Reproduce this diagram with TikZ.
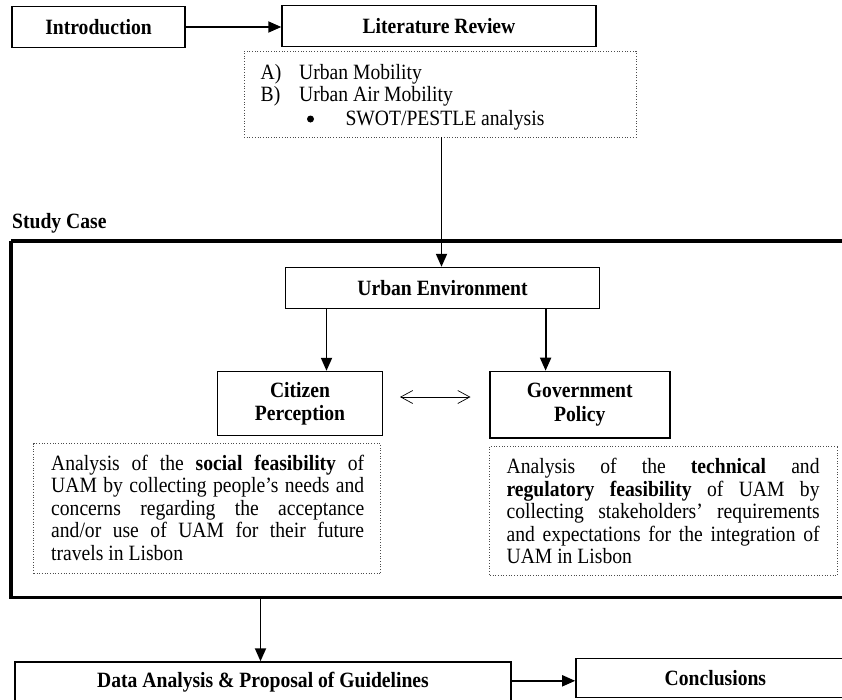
\documentclass[tikz,border=0pt]{standalone}
\usepackage{fontspec}
\setmainfont{Liberation Serif}[FakeStretch=0.9]
\usetikzlibrary{arrows.meta}
\newcommand{\jl}[1]{\makebox[313pt][s]{#1}}
\begin{document}
\begin{tikzpicture}[x=1pt,y=-1pt,
  solidbox/.style={draw=black,line width=1.4pt,fill=white,inner sep=0pt,font=\fontsize{21.8}{23.4}\selectfont\bfseries,align=center},
  dotbox/.style={draw=black!70,line width=0.7pt,dotted,inner sep=0pt},
  body/.style={font=\fontsize{21.8}{22.5}\selectfont,inner sep=0pt},
  arr/.style={line width=1.8pt,-{Triangle[length=13pt,width=11pt]}},
  thinarr/.style={line width=0.6pt,{Straight Barb[length=12pt,width=13pt,line width=0.7pt]}-{Straight Barb[length=12pt,width=13pt,line width=0.7pt]}}
]
\useasboundingbox (0,0) rectangle (842,699);
\begin{scope}
\clip (0,0) rectangle (842,699);
% frame
\draw[line width=3.4pt] (11,241) -- (850,241) (11,241) -- (11,597.5) -- (850,597.5);

% top row
\node[solidbox,minimum width=173pt,minimum height=41.5pt] (intro) at (98.5,27) {Introduction};
\node[solidbox,minimum width=314pt,minimum height=41.5pt] (lit) at (439,26) {Literature Review};
\draw[arr] (intro.east) -- (lit.west |- intro.east);

% literature dotted box
\node[dotbox,minimum width=392pt,minimum height=86pt] (litd) at (440,94) {};
\node[body,anchor=base west] (la) at (260.5,79) {A)};
\node[body,anchor=base west] (lat) at (299,79) {Urban Mobility};
\node[body,anchor=base west] (lb) at (260.5,101.5) {B)};
\node[body,anchor=base west] (lbt) at (299,101.5) {Urban Air Mobility};
\node[circle,fill=black,inner sep=0pt,minimum size=7pt] (lc) at (310.5,119) {};
\node[body,anchor=base west] (lct) at (345.3,125) {SWOT/PESTLE analysis};

% study case label
\node[anchor=base west,inner sep=0pt,font=\fontsize{21.8}{22}\selectfont\bfseries] (sc) at (12,228) {Study Case};

% urban environment
\node[solidbox,minimum width=313.7pt,minimum height=41pt] (ue) at (442.5,288) {Urban Environment};
\coordinate (lv) at (441.5,137);
\draw[arr] (lv) -- (lv |- ue.north);

\node[solidbox,minimum width=165pt,minimum height=64pt] (cp) at (300,403.5) {Citizen\\Perception};
\node[solidbox,minimum width=180pt,minimum height=66.4pt] (gp) at (579.8,404.6) {Government\\Policy};
\coordinate (c1) at (326.5,308.5);
\coordinate (c2) at (545.6,308.5);
\draw[arr] (c1) -- (c1 |- cp.north);
\draw[arr] (c2) -- (c2 |- gp.north);
\coordinate (d1) at (400,397);
\coordinate (d2) at (470.5,397);
\draw[thinarr] (d1) -- (d2);

% dotted description boxes
\node[dotbox,minimum width=347pt,minimum height=130pt] (cpd) at (207.3,508.7) {};
\node[dotbox,minimum width=348pt,minimum height=129.3pt] (gpd) at (663.8,510.5) {};
\node[body,anchor=base west] (cpt) at (51,470.3) {\parbox[t]{313pt}{\jl{Analysis of the \textbf{social feasibility} of}\\
\jl{UAM by collecting people’s needs and}\\
\jl{concerns regarding the acceptance}\\
\jl{and/or use of UAM for their future}\\
travels in Lisbon}};
\node[body,anchor=base west] (gpt) at (506.4,473.5) {\parbox[t]{313pt}{\jl{Analysis of the \textbf{technical} and}\\
\jl{\textbf{regulatory feasibility} of UAM by}\\
\jl{collecting stakeholders’ requirements}\\
\jl{and expectations for the integration of}\\
UAM in Lisbon}};

% bottom row
\coordinate (f1) at (260.5,597.5);
\node[solidbox,minimum width=496pt,minimum height=40pt] (da) at (263,682) {Data Analysis \& Proposal of Guidelines};
\node[solidbox,minimum width=279pt,minimum height=39pt] (co) at (715.4,678) {Conclusions};
\draw[arr] (f1) -- (f1 |- da.north);
\draw[arr] (da.east |- 0,680.8) -- (co.west |- 0,680.8);
\end{scope}
\end{tikzpicture}
\end{document}
